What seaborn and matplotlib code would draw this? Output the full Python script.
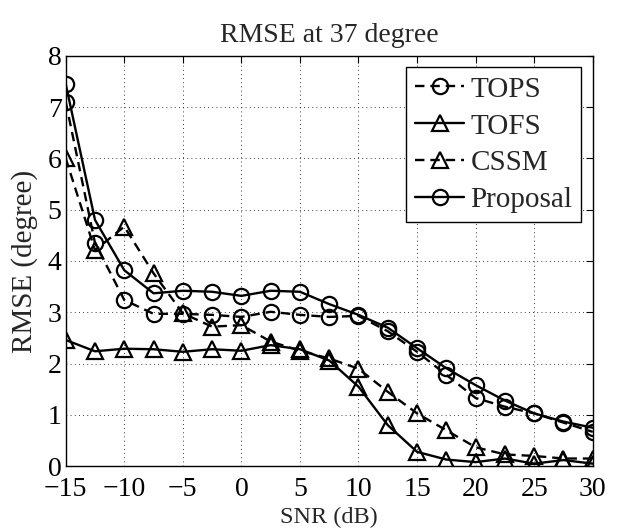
import numpy as np
import pandas as pd
import matplotlib
matplotlib.use("Agg")
import matplotlib.pyplot as plt
import seaborn as sns

# ---------------- data ----------------
snr = [-15, -12.5, -10, -7.5, -5, -2.5, 0, 2.5, 5, 7.5, 10,
       12.5, 15, 17.5, 20, 22.5, 25, 27.5, 30]

tops = [7.10, 4.35, 3.24, 2.97, 2.97, 2.95, 2.91, 3.01, 2.95, 2.91, 2.93,
        2.63, 2.23, 1.78, 1.33, 1.16, 1.03, 0.85, 0.67]
tofs = [2.46, 2.24, 2.29, 2.28, 2.23, 2.28, 2.25, 2.36, 2.28, 2.06, 1.55,
        0.80, 0.28, 0.13, 0.08, 0.15, 0.05, 0.12, 0.05]
cssm = [6.00, 4.21, 4.67, 3.76, 2.98, 2.72, 2.75, 2.43, 2.25, 2.10, 1.90,
        1.45, 1.03, 0.70, 0.37, 0.23, 0.20, 0.15, 0.15]
proposal = [7.45, 4.80, 3.82, 3.37, 3.42, 3.40, 3.32, 3.42, 3.40, 3.16, 2.95,
            2.70, 2.30, 1.91, 1.58, 1.28, 1.03, 0.87, 0.75]

methods = ["TOPS", "TOFS", "CSSM", "Proposal"]
x_ticks = [-15, -10, -5, 0, 5, 10, 15, 20, 25, 30]
y_ticks = [0, 1, 2, 3, 4, 5, 6, 7, 8]

df = pd.DataFrame({"SNR": snr * 4,
                   "RMSE": tops + tofs + cssm + proposal,
                   "method": np.repeat(methods, len(snr))})

# ---------------- style ----------------
sns.set_style("white")
plt.rcParams["font.family"] = ["Liberation Serif", "DejaVu Serif"]
plt.rcParams["xtick.direction"] = "in"
plt.rcParams["ytick.direction"] = "in"

dashed = (0, (4, 2.5))
styles = {
    "TOPS": dict(linestyle=dashed, marker="o"),
    "TOFS": dict(linestyle="-", marker="^"),
    "CSSM": dict(linestyle=dashed, marker="^"),
    "Proposal": dict(linestyle="-", marker="o"),
}

fig = plt.figure(figsize=(6.2, 5.31), dpi=100)
ax = fig.add_axes([0.106, 0.122, 0.850, 0.773])

for m in methods:
    sub = df[df["method"] == m]
    sns.lineplot(data=sub, x="SNR", y="RMSE", ax=ax, color="black",
                 linewidth=1.7, markersize=11, markerfacecolor="none",
                 markeredgecolor="black", markeredgewidth=1.6,
                 label=m, **styles[m])

ax.set_xlim(-15, 30)
ax.set_ylim(0, 8)
ax.set_xticks(x_ticks)
ax.set_yticks(y_ticks)
ax.set_xticklabels([str(t).replace("-", "\u2212") for t in x_ticks])
ax.tick_params(labelsize=20, top=True, right=True, length=5, width=0.8,
               colors="black")
ax.tick_params(axis="x", pad=8)
ax.tick_params(axis="y", pad=3)
ax.grid(True, linestyle=(0, (1, 4)), color="black", linewidth=0.6)
for s in ax.spines.values():
    s.set_color("black")
    s.set_linewidth(1.0)

ax.set_title("RMSE at 37 degree", fontsize=20, pad=10)
ax.set_xlabel("SNR (dB)", fontsize=17.5, labelpad=3)
ax.set_ylabel("RMSE (degree)", fontsize=21, labelpad=7)

leg = ax.legend(loc="upper right", fontsize=21, fancybox=False,
                edgecolor="black", framealpha=1, handlelength=1.7,
                handletextpad=0.2, labelspacing=0.36, borderpad=0.3,
                borderaxespad=0.4)
leg.get_frame().set_linewidth(1.0)

fig.savefig("out.png", dpi=100)
